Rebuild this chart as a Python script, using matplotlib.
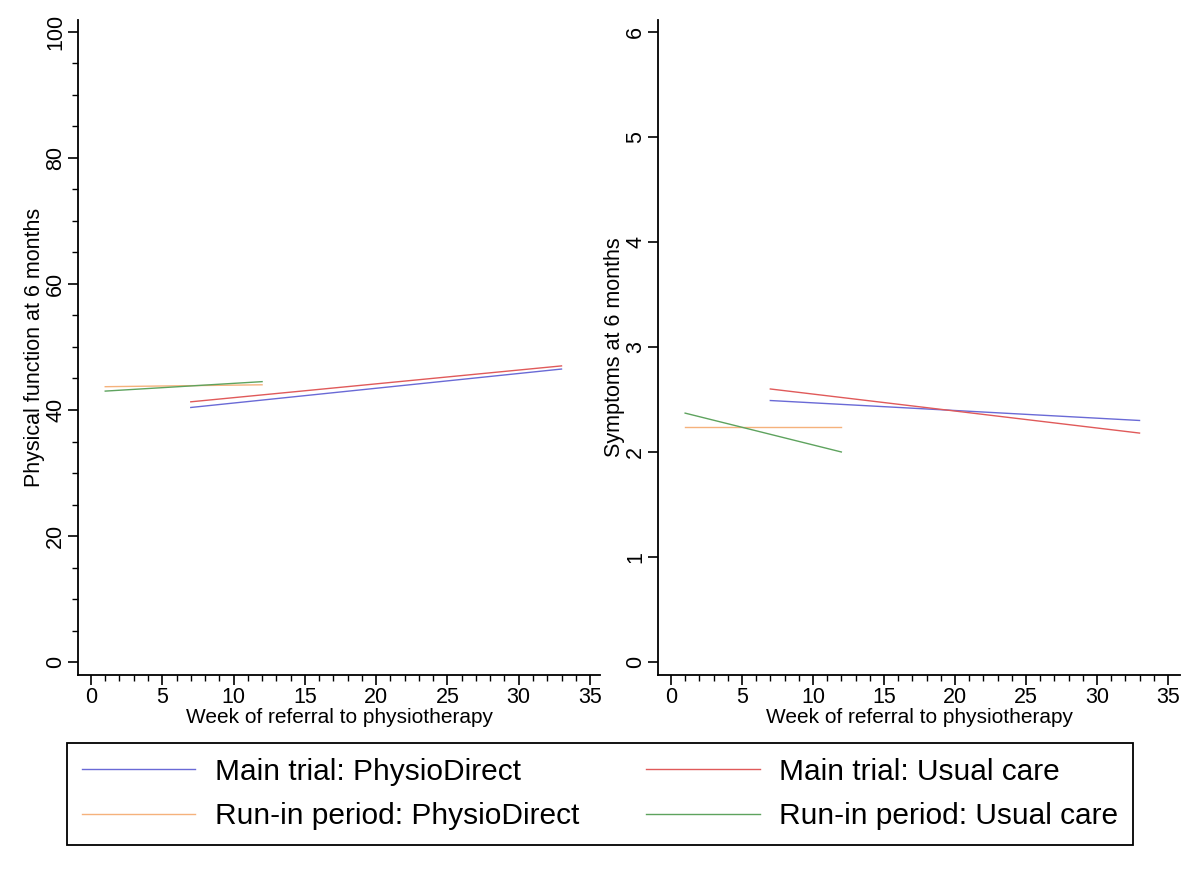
import matplotlib
matplotlib.use("Agg")
import matplotlib.pyplot as plt
from matplotlib.ticker import MultipleLocator

plt.rcParams["font.family"] = ["Liberation Sans", "DejaVu Sans"]

# line endpoints: (week start, week end)
main_weeks = [7, 33]
runin_weeks = [1, 12]

# physical function at 6 months
pf_main_physio = [40.4, 46.5]
pf_main_usual = [41.3, 47.0]
pf_runin_physio = [43.7, 44.0]
pf_runin_usual = [43.0, 44.5]

# symptoms at 6 months
sy_main_physio = [2.49, 2.30]
sy_main_usual = [2.60, 2.18]
sy_runin_physio = [2.24, 2.24]
sy_runin_usual = [2.37, 2.00]

labels = [
    "Main trial: PhysioDirect",
    "Main trial: Usual care",
    "Run-in period: PhysioDirect",
    "Run-in period: Usual care",
]
colors = ["#6a6ad6", "#e05a5a", "#f5b27c", "#5ea35e"]

W, H = 1200, 873
fig = plt.figure(figsize=(W / 100, H / 100), dpi=100)


def px_axes(x0, y0, x1, y1):
    return fig.add_axes([x0 / W, 1 - y1 / H, (x1 - x0) / W, (y1 - y0) / H])


def style(ax, ylabel, yminor):
    for s in ("top", "right"):
        ax.spines[s].set_visible(False)
    for s in ("left", "bottom"):
        ax.spines[s].set_linewidth(1.3)
    ax.xaxis.set_major_locator(MultipleLocator(5))
    ax.xaxis.set_minor_locator(MultipleLocator(1))
    if yminor:
        ax.yaxis.set_minor_locator(MultipleLocator(yminor))
    ax.tick_params(which="major", length=7, width=1.2, labelsize=15.5)
    ax.tick_params(axis="x", which="major", pad=1.5)
    ax.tick_params(axis="y", which="major", pad=1.5)
    ax.tick_params(which="minor", length=4, width=1.0)
    for t in ax.get_yticklabels():
        t.set_rotation(90)
        t.set_va("center")
    ax.set_xlabel("Week of referral to physiotherapy", fontsize=15, labelpad=0)
    ax.set_ylabel(ylabel, fontsize=15.5, labelpad=0)


ax1 = px_axes(78, 20, 600, 675)
series1 = [pf_main_physio, pf_main_usual, pf_runin_physio, pf_runin_usual]
weeks = [main_weeks, main_weeks, runin_weeks, runin_weeks]
handles = []
for xs, ys, c, lab in zip(weeks, series1, colors, labels):
    (h,) = ax1.plot(xs, ys, color=c, lw=1.0, label=lab)
    handles.append(h)
ax1.set_xlim(-0.91, 35.7)
ax1.set_ylim(-2.06, 101.9)
ax1.set_yticks([0, 20, 40, 60, 80, 100])
style(ax1, "Physical function at 6 months", 5)

ax2 = px_axes(658, 20, 1180, 675)
series2 = [sy_main_physio, sy_main_usual, sy_runin_physio, sy_runin_usual]
for xs, ys, c in zip(weeks, series2, colors):
    ax2.plot(xs, ys, color=c, lw=1.0)
ax2.set_xlim(-0.91, 35.85)
ax2.set_ylim(-0.124, 6.114)
ax2.set_yticks(range(0, 7))
style(ax2, "Symptoms at 6 months", None)

# legend fills column-wise, so reorder to read row-wise
order = [0, 2, 1, 3]
leg = fig.legend(
    [handles[i] for i in order], [labels[i] for i in order],
    loc="upper left",
    bbox_to_anchor=(67 / W, 1 - 848 / H, (1133 - 67) / W, (848 - 743) / H),
    mode="expand",
    ncol=2,
    fontsize=21.5,
    frameon=True,
    fancybox=False,
    edgecolor="black",
    handlelength=3.8,
    handletextpad=0.65,
    borderpad=0.5,
    labelspacing=0.55,
    columnspacing=2.0,
    borderaxespad=0,
)
leg.get_frame().set_linewidth(1.3)
leg.get_frame().set_alpha(1)

fig.savefig("out.png", dpi=100, facecolor="white")
